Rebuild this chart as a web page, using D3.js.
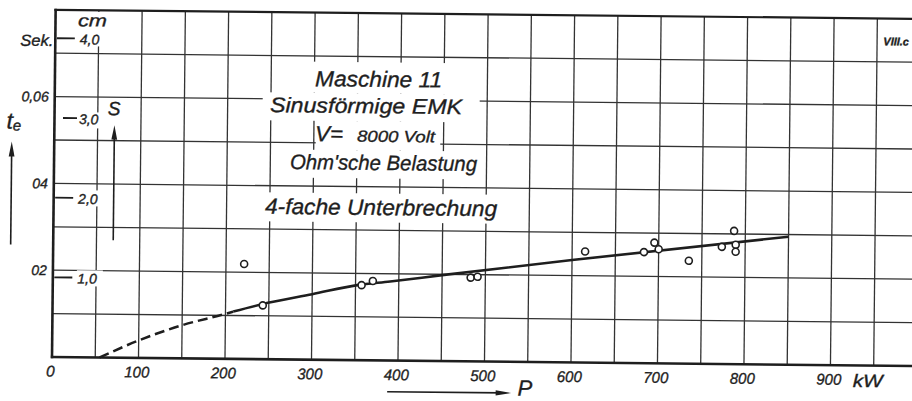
<!DOCTYPE html>
<html><head><meta charset="utf-8">
<script src="https://cdn.jsdelivr.net/npm/d3@7"></script>
<style>html,body{margin:0;padding:0;background:#fff;} svg{display:block;} text{stroke:#1e1e1e;stroke-width:0.35px;}</style>
</head><body>
<svg id="chart" width="912" height="401"></svg>
<script>
// ---- data ----
const pKW  = [221, 243, 357, 370, 483, 491, 615, 683, 695, 700, 735, 773, 787, 789, 789];
const tSek = [0.0219, 0.0124, 0.0173, 0.0183, 0.0193, 0.0195, 0.0256, 0.0256, 0.0278, 0.0263, 0.0237, 0.0270, 0.0307, 0.0275, 0.0259];
const curveDashP  = [55, 101, 151, 199, 209];
const curveDashT  = [0, 0.0041, 0.0077, 0.0103, 0.0109];
const curveSolidP = [209, 249, 300, 352, 390, 450, 600, 850];
const curveSolidT = [0.0109, 0.0130, 0.0151, 0.0173, 0.0182, 0.0198, 0.0236, 0.0295];
const xTickValues = [0, 100, 200, 300, 400, 500, 600, 700, 800, 900];
const xTickLabels = ["0", "100", "200", "300", "400", "500", "600", "700", "800", "900"];
const yTickValues = [0.02, 0.04, 0.06];
const yTickLabels = ["02", "04", "0,06"];
const sTickValues = [1, 2, 3, 4];
const sTickLabels = ["1,0", "2,0", "3,0", "4,0"];
const titleLines = ["Maschine 11", "Sinusförmige EMK", "V=", "8000 Volt", "Ohm'sche Belastung", "4-fache Unterbrechung"];

// ---- drawing ----
const W = 912, H = 401;
const FONT = "'Liberation Sans', Arial, sans-serif";
const ink = "#1e1e1e", gridInk = "#333";
const svg = d3.select("#chart");
svg.append("rect").attr("width", W).attr("height", H).attr("fill", "#fff");
const root = svg.append("g").attr("transform", "rotate(0.6,52,357)");

const x = d3.scaleLinear().domain([0, 1000]).range([52, 917]);
const y = d3.scaleLinear().domain([0, 0.08]).range([357, 9.8]);
const s = d3.scaleLinear().domain([0, 4]).range([357, 38.2]);

// grid
const gridV = d3.range(50, 1101, 50);
const gridH = d3.range(1, 8).map(i => i / 100);
root.append("g").selectAll("line").data(gridV).join("line")
  .attr("x1", d => x(d)).attr("x2", d => x(d))
  .attr("y1", y(0)).attr("y2", y(0.08))
  .attr("stroke", gridInk).attr("stroke-width", 1.3);
root.append("g").selectAll("line").data(gridH).join("line")
  .attr("x1", x(0)).attr("x2", x(1100))
  .attr("y1", d => y(d)).attr("y2", d => y(d))
  .attr("stroke", gridInk).attr("stroke-width", 1.3);

// erased areas behind lettering
const erase = [
  [297, 59, 160, 31], [260, 90, 217, 28], [313.5, 118, 124.5, 29],
  [282, 147, 197, 28], [259, 190, 240, 29],
  [74, 11.5, 31, 34.5], [76, 112, 26, 16], [76, 190, 26, 16], [76, 270, 26, 16]
];
root.append("g").selectAll("rect").data(erase).join("rect")
  .attr("x", d => d[0]).attr("y", d => d[1]).attr("width", d => d[2]).attr("height", d => d[3])
  .attr("fill", "#fff");

// frame
root.append("line").attr("x1", x(0)).attr("x2", x(0)).attr("y1", y(0) + 1.2).attr("y2", y(0.08) - 1)
  .attr("stroke", ink).attr("stroke-width", 2.6);
root.append("line").attr("x1", x(0) - 1.2).attr("x2", x(1100)).attr("y1", y(0)).attr("y2", y(0))
  .attr("stroke", ink).attr("stroke-width", 2.6);
root.append("line").attr("x1", x(0) - 1.2).attr("x2", x(1100)).attr("y1", y(0.08)).attr("y2", y(0.08))
  .attr("stroke", ink).attr("stroke-width", 2.2);

// x axis labels
const xAxis = root.append("g").attr("transform", `translate(0,${y(0)})`)
  .call(d3.axisBottom(x).tickValues(xTickValues).tickFormat((d, i) => xTickLabels[i]).tickSize(0).tickPadding(8.6));
xAxis.select(".domain").remove();
xAxis.attr("font-family", FONT).attr("font-size", 15.5).attr("font-style", "italic").attr("color", ink);
xAxis.selectAll("text").attr("dx", -2).attr("fill", ink)
  .attr("textLength", (d, i) => xTickLabels[i].length > 1 ? 25 : null).attr("lengthAdjust", "spacingAndGlyphs");
root.append("text").attr("x", 853).attr("y", 378.5).text("kW")
  .attr("font-family", FONT).attr("font-size", 18).attr("font-style", "italic").attr("fill", ink)
  .attr("textLength", 30).attr("lengthAdjust", "spacingAndGlyphs");

// left t_e labels
const yAxis = root.append("g").attr("transform", `translate(${x(0) - 3},0)`)
  .call(d3.axisLeft(y).tickValues(yTickValues).tickFormat((d, i) => yTickLabels[i]).tickSize(0).tickPadding(3));
yAxis.select(".domain").remove();
yAxis.attr("font-family", FONT).attr("font-size", 14).attr("font-style", "italic").attr("color", ink);
yAxis.selectAll("text").attr("fill", ink);

// s scale ticks
root.append("g").selectAll("line").data(sTickValues).join("line")
  .attr("x1", d => d === 3 ? 60.5 : 53.5).attr("x2", d => d === 3 ? 74.5 : 71.5)
  .attr("y1", d => s(d)).attr("y2", d => s(d))
  .attr("stroke", ink).attr("stroke-width", 1.8);
root.append("g").selectAll("text").data(sTickValues).join("text")
  .attr("x", 76.5).attr("y", d => s(d) + 1).attr("dy", "0.35em")
  .text((d, i) => sTickLabels[i])
  .attr("font-family", FONT).attr("font-size", 14).attr("font-style", "italic").attr("fill", ink);

const txt = (xx, yy, str, size, anchor, len) => {
  const t = root.append("text").attr("x", xx).attr("y", yy).text(str)
    .attr("font-family", FONT).attr("font-size", size).attr("font-style", "italic")
    .attr("fill", ink).attr("text-anchor", anchor || "start");
  if (len) t.attr("textLength", len).attr("lengthAdjust", "spacingAndGlyphs");
  return t;
};
txt(50, 46, "Sek.", 16, "end", 33);
txt(74.5, 26, "cm", 17, "start", 29);
txt(111.5, 114.5, "S", 19, "middle");
// t_e
const te = root.append("text").attr("x", 4).attr("y", 129)
  .attr("font-family", FONT).attr("font-style", "italic").attr("fill", ink);
te.append("tspan").attr("font-size", 23).text("t");
te.append("tspan").attr("font-size", 15).attr("dy", 2).text("e");
txt(518, 390.5, "P", 22, "start");
root.append("text").attr("x", 880).attr("y", 36.5).text("VIII.c")
  .attr("font-family", FONT).attr("font-size", 11).attr("font-style", "italic").attr("font-weight", "bold").attr("fill", ink);

// arrows
const arrow = (x1, y1, x2, y2) => {
  root.append("line").attr("x1", x1).attr("y1", y1).attr("x2", x2).attr("y2", y2)
    .attr("stroke", ink).attr("stroke-width", 1.6);
};
arrow(9.5, 245, 9.5, 150);
root.append("path").attr("d", "M9.5,142 L6.6,157 L12.4,157 Z").attr("fill", ink);
arrow(112, 239.5, 112, 132);
root.append("path").attr("d", "M112,124.5 L109.1,139 L114.9,139 Z").attr("fill", ink);
arrow(387.5, 388.2, 503, 388.2);
root.append("path").attr("d", "M511.5,388.2 L496,385.6 L496,390.8 Z").attr("fill", ink);

// title block
txt(312.2, 83.4, titleLines[0], 22, "start", 127);
txt(267.4, 109.8, titleLines[1], 21, "start", 192);
txt(312.7, 138.4, titleLines[2], 22, "start", 28);
txt(354.7, 138.4, titleLines[3], 16, "start", 78);
txt(288, 166.6, titleLines[4], 21, "start", 187);
txt(263.5, 211.6, titleLines[5], 22, "start", 232);

// curve
const line = d3.line().x(d => x(d[0])).y(d => y(d[1])).curve(d3.curveMonotoneX);
root.append("path").datum(curveDashP.map((p, i) => [p, curveDashT[i]]))
  .attr("d", line).attr("fill", "none").attr("stroke", ink).attr("stroke-width", 2.5)
  .attr("stroke-dasharray", "10,5");
root.append("path").datum(curveSolidP.map((p, i) => [p, curveSolidT[i]]))
  .attr("d", line).attr("fill", "none").attr("stroke", ink).attr("stroke-width", 2.6);

// measured points
root.append("g").selectAll("circle").data(pKW.map((p, i) => [p, tSek[i]])).join("circle")
  .attr("cx", d => x(d[0])).attr("cy", d => y(d[1])).attr("r", 3.5)
  .attr("fill", "#fff").attr("stroke", ink).attr("stroke-width", 1.6);
</script>
</body></html>
